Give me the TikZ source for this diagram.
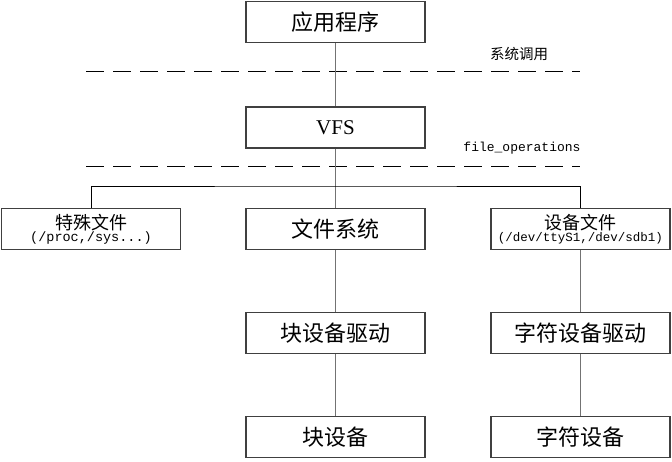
\documentclass[tikz,border=0pt]{standalone}
\usepackage{fontspec}
\setmainfont{Liberation Serif}
\setmonofont{Liberation Mono}
\newfontfamily\cjk{Noto Sans CJK SC}
\usepackage{tikz}
\usetikzlibrary{positioning, calc}

\begin{document}
\begin{tikzpicture}[
    x=1pt, y=-1pt,
    layer/.style={draw=black!75, line width=1.2pt, fill=white, minimum width=179, minimum height=41, inner sep=0},
    big/.style={font=\cjk\fontsize{22}{26}\selectfont},
    two/.style={align=center, font=\fontsize{12.5}{14}\selectfont},
    link/.style={black!55, line width=1.2pt},
    tree/.style={black, line width=0.8pt},
    cut/.style={black, line width=1pt, dash pattern=on 18pt off 9pt},
    lbl/.style={font=\fontsize{13}{15}\selectfont},
]
    \useasboundingbox (0,0) rectangle (672,461);

    % top two layers
    \node[layer, big] (app) at (335.5, 22) {应用程序};
    \node[layer, font=\fontsize{21}{24}\selectfont] (vfs) at (335.5, 127.5) {VFS};

    % separators
    \draw[cut] (86, 71) -- (580, 71);
    \node[lbl, font=\cjk\fontsize{14.5}{16}\selectfont] (sys) at (519, 54) {系统调用};
    \draw[cut] (86, 166) -- (580, 166);
    \node[lbl, font=\ttfamily\fontsize{13}{15}\selectfont] (fops) at (522, 148) {file\_operations};

    % middle row
    \node[layer, two] (spec) at (91, 229) {{\cjk\fontsize{18}{20}\selectfont 特殊文件}\\[-2pt]\ttfamily\fontsize{13.5}{15}\selectfont(/proc,/sys...)};
    \node[layer, big] (fs) at (335.5, 229) {文件系统};
    \node[layer, two] (devf) at (580.5, 229) {{\cjk\fontsize{18}{20}\selectfont 设备文件}\\[-2pt]\ttfamily(/dev/ttyS1,/dev/sdb1)};

    % drivers and devices
    \node[layer, big] (blkdrv) at (335.5, 333) {块设备驱动};
    \node[layer, big] (chrdrv) at (580.5, 333) {字符设备驱动};
    \node[layer, big] (blk) at (335.5, 437) {块设备};
    \node[layer, big] (chr) at (580.5, 437) {字符设备};

    % connectors
    \coordinate (junc) at (335.5, 186);
    \draw[link] (app) -- (vfs);
    \draw[link] (vfs) -- (fs);
    \draw[tree] (spec.north) |- (junc) -| (devf.north);
    \draw[link] (fs) -- (blkdrv);
    \draw[link] (blkdrv) -- (blk);
    \draw[link] (devf) -- (chrdrv);
    \draw[link] (chrdrv) -- (chr);
\end{tikzpicture}
\end{document}
